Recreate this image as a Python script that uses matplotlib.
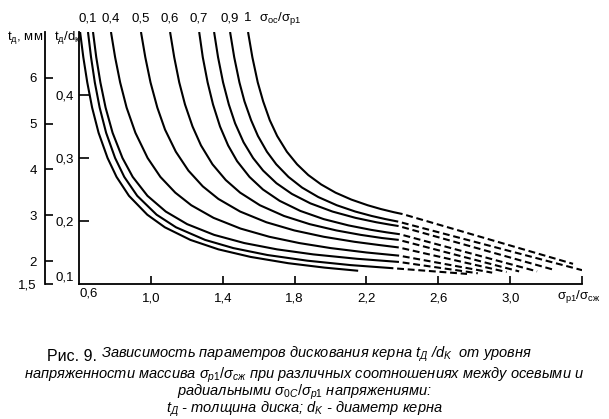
import matplotlib
matplotlib.use('Agg')
import matplotlib.pyplot as plt
from matplotlib.transforms import blended_transform_factory

plt.rcParams['font.family'] = ['Liberation Sans', 'DejaVu Sans']
plt.rcParams['mathtext.fontset'] = 'custom'
plt.rcParams['mathtext.rm'] = 'Liberation Sans'
plt.rcParams['mathtext.it'] = 'Liberation Sans:italic'
plt.rcParams['mathtext.sf'] = 'Liberation Sans'

# кривые t/d = f(σр1/σсж); c1 - самая левая вверху
c1_x = [0.606, 0.624, 0.646, 0.673, 0.709, 0.759, 0.809, 0.878, 0.980, 1.078, 1.220, 1.376, 1.555, 1.765, 1.967, 2.154]
c1_y = [0.5, 0.46, 0.42, 0.38, 0.34, 0.30, 0.27, 0.24, 0.21, 0.19, 0.17, 0.155, 0.143, 0.133, 0.126, 0.121]
c2_x = [0.650, 0.667, 0.688, 0.715, 0.751, 0.801, 0.852, 0.924, 1.032, 1.140, 1.302, 1.459, 1.649, 1.871, 2.112, 2.350]
c2_y = [0.5, 0.46, 0.42, 0.38, 0.34, 0.30, 0.27, 0.24, 0.21, 0.19, 0.17, 0.157, 0.146, 0.137, 0.130, 0.125]
c3_x = [0.678, 0.696, 0.719, 0.748, 0.787, 0.842, 0.899, 0.981, 1.083, 1.202, 1.352, 1.520, 1.702, 1.904, 2.148, 2.381]
c3_y = [0.5, 0.46, 0.42, 0.38, 0.34, 0.30, 0.27, 0.24, 0.215, 0.195, 0.178, 0.165, 0.155, 0.147, 0.140, 0.135]
c4_x = [0.778, 0.801, 0.829, 0.865, 0.914, 0.982, 1.053, 1.136, 1.225, 1.349, 1.499, 1.659, 1.826, 2.001, 2.201, 2.382]
c4_y = [0.5, 0.46, 0.42, 0.38, 0.34, 0.30, 0.27, 0.245, 0.225, 0.205, 0.188, 0.175, 0.165, 0.157, 0.150, 0.145]
c5_x = [0.945, 0.969, 0.998, 1.036, 1.079, 1.139, 1.209, 1.289, 1.376, 1.497, 1.643, 1.799, 1.962, 2.133, 2.267, 2.380]
c5_y = [0.5, 0.46, 0.42, 0.38, 0.345, 0.31, 0.28, 0.255, 0.235, 0.215, 0.198, 0.185, 0.175, 0.167, 0.162, 0.158]
c6_x = [1.107, 1.130, 1.158, 1.190, 1.232, 1.279, 1.343, 1.417, 1.497, 1.607, 1.741, 1.884, 2.033, 2.168, 2.286, 2.380]
c6_y = [0.5, 0.46, 0.42, 0.385, 0.35, 0.32, 0.29, 0.265, 0.245, 0.225, 0.208, 0.195, 0.185, 0.178, 0.173, 0.170]
c7_x = [1.269, 1.289, 1.316, 1.346, 1.385, 1.430, 1.480, 1.549, 1.624, 1.717, 1.832, 1.962, 2.100, 2.225, 2.312, 2.386]
c7_y = [0.5, 0.46, 0.42, 0.385, 0.35, 0.32, 0.295, 0.27, 0.25, 0.232, 0.216, 0.203, 0.193, 0.186, 0.182, 0.179]
c8_x = [1.352, 1.374, 1.402, 1.434, 1.469, 1.516, 1.569, 1.625, 1.699, 1.785, 1.888, 2.011, 2.139, 2.255, 2.335, 2.379]
c8_y = [0.5, 0.46, 0.42, 0.385, 0.355, 0.325, 0.30, 0.28, 0.26, 0.243, 0.228, 0.215, 0.205, 0.198, 0.194, 0.192]
c9_x = [1.441, 1.464, 1.493, 1.521, 1.558, 1.596, 1.646, 1.698, 1.766, 1.842, 1.932, 2.035, 2.138, 2.229, 2.306, 2.377]
c9_y = [0.5, 0.46, 0.42, 0.39, 0.36, 0.335, 0.31, 0.29, 0.27, 0.253, 0.238, 0.225, 0.215, 0.208, 0.203, 0.199]
c10_x = [1.541, 1.565, 1.595, 1.625, 1.662, 1.703, 1.757, 1.814, 1.876, 1.948, 2.028, 2.116, 2.207, 2.280, 2.352, 2.401]
c10_y = [0.5, 0.46, 0.42, 0.39, 0.36, 0.335, 0.31, 0.29, 0.273, 0.258, 0.245, 0.234, 0.225, 0.219, 0.214, 0.211]

curves_x = [c1_x, c2_x, c3_x, c4_x, c5_x, c6_x, c7_x, c8_x, c9_x, c10_x]
curves_y = [c1_y, c2_y, c3_y, c4_y, c5_y, c6_y, c7_y, c8_y, c9_y, c10_y]

# экстраполяция (пунктир): конечные точки, у c1 её нет
dash_end_x = [None, 2.76, 2.82, 2.90, 2.98, 3.05, 3.15, 3.25, 3.40, 3.35]
dash_end_y = [None, 0.116, 0.117, 0.118, 0.119, 0.120, 0.120, 0.122, 0.122, 0.132]

# подписи σос/σр1 над кривыми
ratio_labels = ['0,1', '0,4', '0,5', '0,6', '0,7', '0,9', '1']
ratio_curve_idx = [1, 3, 4, 5, 6, 8, 9]

x_ticks = [1.0, 1.4, 1.8, 2.2, 2.6, 3.0, 3.4]
x_tick_labels = ['1,0', '1,4', '1,8', '2,2', '2,6', '3,0', '']
td_ticks = [0.2, 0.3, 0.4]
td_tick_labels = ['0,2', '0,3', '0,4']
mm_ticks = [1.5, 2, 3, 4, 5, 6]
mm_tick_labels = ['1,5', '2', '3', '4', '5', '6']

W, H = 609, 419
fig = plt.figure(figsize=(W / 100, H / 100), dpi=100)
bottom = 1 - 284 / H
height = (284 - 32) / H
ax = fig.add_axes([79 / W, bottom, (582 - 79) / W, height])

lw = 1.5
for i in range(len(curves_x)):
    ax.plot(curves_x[i], curves_y[i], color='black', lw=lw, solid_capstyle='butt')
    if dash_end_x[i] is not None:
        ax.plot([curves_x[i][-1], dash_end_x[i]], [curves_y[i][-1], dash_end_y[i]],
                color='black', lw=lw, linestyle=(3.3, (3.3, 1.8)), dash_capstyle='butt')

ax.set_xlim(0.6, 3.4)
ax.set_ylim(0.1, 0.5)
for s in ['top', 'right']:
    ax.spines[s].set_visible(False)
for s in ['left', 'bottom']:
    ax.spines[s].set_linewidth(1.3)

ax.set_xticks(x_ticks)
ax.set_xticklabels(x_tick_labels)
ax.set_yticks(td_ticks)
ax.set_yticklabels(td_tick_labels)
ax.tick_params(axis='x', direction='in', length=6, width=1.2, pad=6, labelsize=9.5)
ax.tick_params(axis='y', direction='in', length=7, width=1.2, pad=4, labelsize=9.5)

ax.text(0.6, -0.015, '0,6', transform=blended_transform_factory(ax.transData, ax.transAxes),
        ha='left', va='top', fontsize=9.5)
ax.text(-0.01, 0.1, '0,1', transform=blended_transform_factory(ax.transAxes, ax.transData),
        ha='right', va='bottom', fontsize=9.5)
ax.text(3.385, -0.015, r'$\mathrm{σ_{р1}/σ_{сж}}$',
        transform=blended_transform_factory(ax.transData, ax.transAxes),
        ha='center', va='top', fontsize=9.5)

top_tr = blended_transform_factory(ax.transData, ax.transAxes)
for lab, idx in zip(ratio_labels, ratio_curve_idx):
    ax.text(curves_x[idx][0], 1.055, lab, transform=top_tr, ha='center', va='center',
            fontsize=9.5, clip_on=False)
ax.text(1.60, 1.055, r'$\mathrm{σ_{ос}/σ_{р1}}$', transform=top_tr, ha='left', va='center',
        fontsize=9.5)

# внешняя шкала t_д, мм
ax2 = fig.add_axes([45 / W, bottom, 0.01, height])
ax2.patch.set_visible(False)
for s in ['top', 'right', 'bottom']:
    ax2.spines[s].set_visible(False)
ax2.spines['left'].set_linewidth(1.3)
ax2.set_xticks([])
ax2.set_ylim(1.5, 7.0)
ax2.set_yticks(mm_ticks)
ax2.set_yticklabels(mm_tick_labels)
ax2.tick_params(axis='y', direction='in', length=6, width=1.2, pad=6, labelsize=9.5)

fig.text(7 / W, 1 - 38 / H, r'$\mathrm{t_{д}}$, мм', ha='left', va='center', fontsize=9.5)
fig.text(54 / W, 1 - 38 / H, r'$\mathrm{t_{д}/d_{к}}$', ha='left', va='center', fontsize=9.5)

# подпись к рисунку
cap = 10.5
t1 = fig.text(47 / W, 1 - 361 / H, 'Рис. 9.', ha='left', va='baseline', fontsize=11.5)
ax.annotate(' Зависимость параметров дискования керна $t_{Д}$ /$d_{K}$  от уровня',
            xy=(1.0, 0.0), xycoords=t1, xytext=(0, 0), textcoords='offset points',
            fontsize=cap, style='italic', ha='left', va='bottom', annotation_clip=False)
caption_rest = ('напряженности массива $σ_{р1}/σ_{сж}$ при различных соотношениях между осевыми и\n'
                'радиальными $σ_{0С}/σ_{р1}$ напряжениями:\n'
                '$t_{Д}$ - толщина диска; $d_{K}$ - диаметр керна')
fig.text(0.5, 1 - 366 / H, caption_rest, ha='center', va='top', fontsize=cap,
         style='italic', linespacing=0.8, multialignment='center')

fig.savefig('out.png', dpi=100)
